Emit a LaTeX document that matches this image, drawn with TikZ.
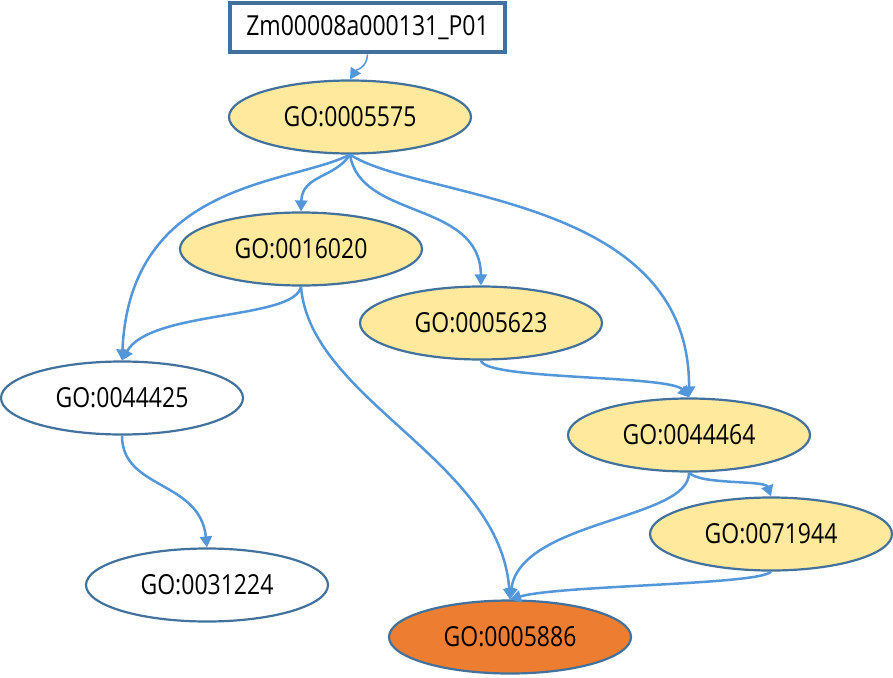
\documentclass[tikz,border=0pt]{standalone}
\usepackage{fontspec}
\setmainfont{Open Sans}
\usetikzlibrary{shapes.geometric,arrows.meta}
\definecolor{rim}{RGB}{65,113,156}
\definecolor{pale}{RGB}{255,233,156}
\definecolor{ocre}{RGB}{237,125,49}
\definecolor{link}{RGB}{83,150,218}
\newcommand{\tall}[1]{\scalebox{1}[1.2]{#1}}

\begin{document}
\begin{tikzpicture}[x=1pt,y=-1pt,
  term/.style={ellipse,draw=rim,line width=2.2pt,minimum width=242pt,minimum height=73pt,inner sep=0pt,font=\fontsize{23}{26}\selectfont},
  edge/.style={link,line width=2.5pt,-{Triangle[length=11pt,width=12pt]}}]
\useasboundingbox (0,0) rectangle (893,677);

\node[draw=rim,line width=4pt,fill=white,minimum width=275pt,minimum height=49pt,inner sep=0pt,font=\fontsize{23}{26}\selectfont] (prot) at (367.5,28) {\tall{Zm00008a000131\_P01}};

\node[term,fill=pale] (c5575) at (350,117) {\tall{GO:0005575}};
\node[term,fill=pale] (c16020) at (301,249) {\tall{GO:0016020}};
\node[term,fill=pale] (c5623) at (481,323) {\tall{GO:0005623}};
\node[term,fill=white] (c44425) at (122,398) {\tall{GO:0044425}};
\node[term,fill=pale] (c44464) at (689,435) {\tall{GO:0044464}};
\node[term,fill=pale] (c71944) at (771,534) {\tall{GO:0071944}};
\node[term,fill=white] (c31224) at (207,585) {\tall{GO:0031224}};
\node[term,fill=ocre] (c5886) at (510,637) {\tall{GO:0005886}};

\draw[edge,line width=1.5pt] (prot.south) .. controls (367,68) and (356,70) .. (c5575.north);
\draw[edge] (c5575.south) .. controls (335,178) and (302,175) .. (c16020.north);
\draw[edge] (c5575.south) .. controls (290,185) and (130,180) .. (c44425.north);
\draw[edge] (c5575.south) .. controls (360,220) and (480,200) .. (c5623.north);
\draw[edge] (c5575.south) .. controls (420,200) and (690,195) .. (c44464.north);
\draw[edge] (c16020.south) .. controls (295,320) and (150,310) .. (c44425.north);
\draw[edge] (c16020.south) .. controls (310,400) and (500,460) .. (c5886.north);
\draw[edge] (c5623.south) .. controls (485,380) and (670,375) .. (c44464.north);
\draw[edge] (c44425.south) .. controls (122,490) and (200,480) .. (c31224.north);
\draw[edge] (c44464.south) .. controls (700,485) and (765,480) .. (c71944.north);
\draw[edge] (c44464.south) .. controls (690,520) and (520,520) .. (c5886.north);
\draw[edge] (c71944.south) .. controls (760,585) and (560,585) .. (c5886.north);
\end{tikzpicture}
\end{document}
